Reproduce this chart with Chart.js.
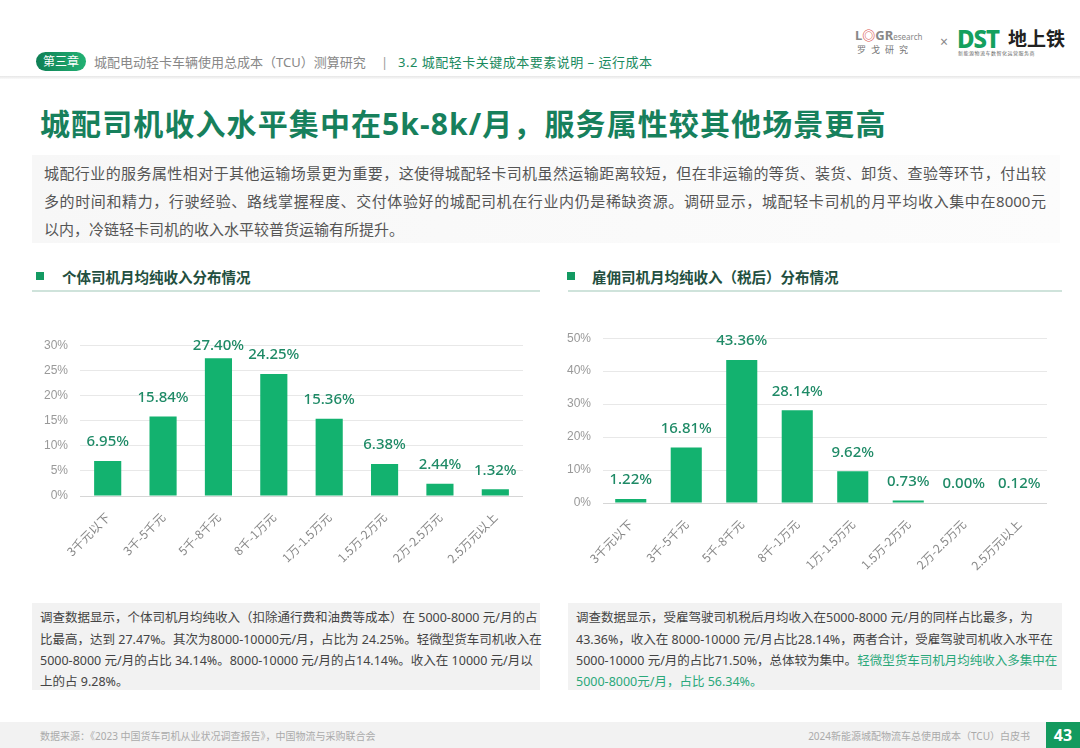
<!DOCTYPE html>
<html>
<head>
<meta charset="utf-8">
<script src="https://cdn.jsdelivr.net/npm/chart.js@4"></script>
<style>
  body { margin:0; width:1080px; height:748px; position:relative; background:#fff; overflow:hidden;
         font-family:"Noto Sans","Noto Sans CJK SC",sans-serif; }
  .abs { position:absolute; white-space:nowrap; }
  .pill { left:36px; top:52px; width:50px; height:19px; border-radius:10px;
          background:linear-gradient(90deg,#0f7f55,#22b173); color:#fff; font-size:12px; line-height:19px; text-align:center; }
  .hdr { top:53px; font-size:13px; color:#888; line-height:18px; }
  .hline { left:0; top:76px; width:1080px; height:3px; background:linear-gradient(#e6e6e6,#fafafa); }
  .title { left:40px; top:100px; font-size:30px; font-weight:700; color:#17805c; letter-spacing:1.1px; }
  .intro { left:32px; top:155px; width:1028px; height:88px; background:linear-gradient(90deg,#f7f7f7,#fcfcfc); }
  .line { position:absolute; left:12px; width:1002px; font-size:15px; color:#555; text-align:justify; text-align-last:justify; }
  .sec { top:266px; font-size:14.5px; font-weight:700; color:#234f40; }
  .sq { width:8px; height:8px; background:#139a62; top:272px; }
  .uline { height:2px; top:290px; background:#cfe3db; }
  .box { top:603px; height:87px; background:#f2f2f2; }
  .bl { position:absolute; left:8px; font-size:12.5px; color:#444; white-space:nowrap; }
  .foot { left:0; top:722px; width:1080px; height:26px; background:#f2f2f2; }
  .ft { top:728px; font-size:10px; color:#aaa; }
  .pg { left:1046px; top:722px; width:34px; height:26px; background:#139a5e; color:#fff; font-size:16px; font-weight:700; text-align:center; line-height:26px; }
  .cw { position:absolute; }
</style>
</head>
<body>
<div class="abs pill">第三章</div>
<div class="abs hdr" style="left:94px;">城配电动轻卡车辆使用总成本（TCU）测算研究</div>
<div class="abs hdr" style="left:381px;color:#999;">|</div>
<div class="abs hdr" style="left:398px;color:#1a8a5e;letter-spacing:0.5px;">3.2 城配轻卡关键成本要素说明 – 运行成本</div>

<div class="abs" style="left:855px;top:25px;font-size:13px;font-weight:700;color:#888;">L<span style="color:#d9534f;">◎</span>GR<span style="font-size:8px;font-weight:400;">esearch</span></div>
<div class="abs" style="left:857px;top:43px;font-size:9px;color:#777;letter-spacing:5px;">罗戈研究</div>
<div class="abs" style="left:940px;top:32px;font-size:14px;color:#888;">×</div>
<div class="abs" style="left:957px;top:22px;font-size:24px;font-weight:800;color:#14a05e;letter-spacing:-1px;">DST</div>
<div class="abs" style="left:1008px;top:24px;font-size:19px;font-weight:700;color:#222;">地上铁</div>
<div class="abs" style="left:958px;top:49px;font-size:5px;color:#666;letter-spacing:0.5px;">新能源物流车数智化运营服务商</div>

<div class="abs hline"></div>
<div class="abs title">城配司机收入水平集中在5k-8k/月，服务属性较其他场景更高</div>

<div class="abs intro">
  <div class="line" style="top:7px;">城配行业的服务属性相对于其他运输场景更为重要，这使得城配轻卡司机虽然运输距离较短，但在非运输的等货、装货、卸货、查验等环节，付出较</div>
  <div class="line" style="top:35px;">多的时间和精力，行驶经验、路线掌握程度、交付体验好的城配司机在行业内仍是稀缺资源。调研显示，城配轻卡司机的月平均收入集中在8000元</div>
  <div class="line" style="top:63px;text-align-last:left;">以内，冷链轻卡司机的收入水平较普货运输有所提升。</div>
</div>

<div class="abs sq" style="left:36px;"></div>
<div class="abs sec" style="left:62px;">个体司机月均纯收入分布情况</div>
<div class="abs uline" style="left:32px;width:508px;"></div>
<div class="abs sq" style="left:567px;"></div>
<div class="abs sec" style="left:592px;">雇佣司机月均纯收入（税后）分布情况</div>
<div class="abs uline" style="left:568px;width:494px;"></div>

<div class="cw" style="left:35px;top:326px;width:488px;height:240px;"><canvas id="c1"></canvas></div>
<div class="cw" style="left:558px;top:319px;width:489px;height:254px;"><canvas id="c2"></canvas></div>

<div class="abs box" style="left:32px;width:508px;">
  <div class="bl" style="top:4px;">调查数据显示，个体司机月均纯收入（扣除通行费和油费等成本）在 5000-8000 元/月的占</div>
  <div class="bl" style="top:26px;">比最高，达到 27.47%。其次为8000-10000元/月，占比为 24.25%。轻微型货车司机收入在</div>
  <div class="bl" style="top:47px;">5000-8000 元/月的占比 34.14%。8000-10000 元/月的占14.14%。收入在 10000 元/月以</div>
  <div class="bl" style="top:68px;">上的占 9.28%。</div>
</div>
<div class="abs box" style="left:568px;width:494px;">
  <div class="bl" style="top:4px;">调查数据显示，受雇驾驶司机税后月均收入在5000-8000 元/月的同样占比最多，为</div>
  <div class="bl" style="top:26px;">43.36%，收入在 8000-10000 元/月占比28.14%，两者合计，受雇驾驶司机收入水平在</div>
  <div class="bl" style="top:47px;">5000-10000 元/月的占比71.50%，总体较为集中。<span style="color:#2aa87a;">轻微型货车司机月均纯收入多集中在</span></div>
  <div class="bl" style="top:68px;color:#2aa87a;">5000-8000元/月，占比 56.34%。</div>
</div>

<div class="abs foot"></div>
<div class="abs ft" style="left:40px;">数据来源：《2023 中国货车司机从业状况调查报告》，中国物流与采购联合会</div>
<div class="abs ft" style="right:50px;">2024新能源城配物流车总使用成本（TCU）白皮书</div>
<div class="abs pg">43</div>

<script>
const categories = ['3千元以下', '3千-5千元', '5千-8千元', '8千-1万元', '1万-1.5万元', '1.5万-2万元', '2万-2.5万元', '2.5万元以上'];
const selfEmployed = [6.95, 15.84, 27.40, 24.25, 15.36, 6.38, 2.44, 1.32];
const hired = [1.22, 16.81, 43.36, 28.14, 9.62, 0.73, 0.00, 0.12];
const leftTicks = [0, 5, 10, 15, 20, 25, 30];
const rightTicks = [0, 10, 20, 30, 40, 50];

const barGreen = '#13b26f';
const labelGreen = '#1e8a66';

// bar value labels
const valueLabels = {
  id: 'valueLabels',
  afterDatasetsDraw(chart) {
    const ctx = chart.ctx;
    const meta = chart.getDatasetMeta(0);
    const vals = chart.data.datasets[0].data;
    ctx.save();
    ctx.font = '500 15px "Noto Sans", sans-serif';
    ctx.fillStyle = labelGreen;
    ctx.textAlign = 'center';
    ctx.textBaseline = 'middle';
    meta.data.forEach((bar, i) => {
      let y = Math.max(bar.y - 19, chart.chartArea.top + 1);
      ctx.fillText(vals[i].toFixed(2) + '%', bar.x, y);
    });
    ctx.restore();
  }
};

function makeChart(id, values, max, ticks, barPct) {
  return new Chart(document.getElementById(id), {
    type: 'bar',
    data: {
      labels: categories,
      datasets: [{ data: values, backgroundColor: barGreen, barPercentage: barPct, categoryPercentage: 1 }]
    },
    options: {
      responsive: true,
      maintainAspectRatio: false,
      animation: false,
      layout: { padding: { top: 14, left: 0, right: 0, bottom: 0 } },
      plugins: { legend: { display: false }, tooltip: { enabled: false } },
      scales: {
        x: {
          grid: { display: false },
          border: { display: false },
          ticks: { color: '#888', font: { size: 12, family: '"Noto Sans CJK SC", sans-serif' }, minRotation: 45, maxRotation: 45, padding: 6 },
          afterFit: s => { s.height = 70; }
        },
        y: {
          min: 0, max: max,
          afterBuildTicks: s => { s.ticks = ticks.map(v => ({ value: v })); },
          grid: { color: c => c.tick.value === 0 ? '#d6d6d6' : '#e8e8e8', drawTicks: false, lineWidth: 1 },
          border: { display: false },
          ticks: { color: '#999', font: { size: 12 }, padding: 12, callback: v => v + '%' },
          afterFit: s => { s.width = 45; }
        }
      }
    },
    plugins: [valueLabels]
  });
}

makeChart('c1', selfEmployed, 30, leftTicks, 0.49);
makeChart('c2', hired, 50, rightTicks, 0.56);
</script>
</body>
</html>
